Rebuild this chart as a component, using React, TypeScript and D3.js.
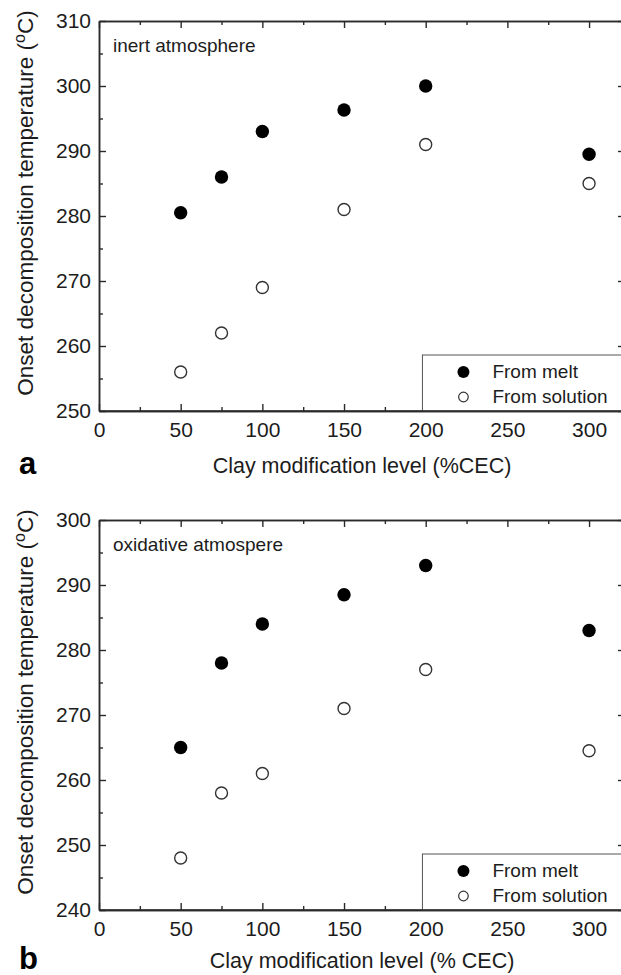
import React, { useEffect, useRef } from 'react'
import * as d3 from 'd3'

// clay modification level (%CEC)
const levels = [50, 75, 100, 150, 200, 300]

// onset decomposition temperature, inert atmosphere (panel a)
const inertMelt = [280.5, 286, 293, 296.3, 300, 289.5]
const inertSolution = [256, 262, 269, 281, 291, 285]

// onset decomposition temperature, oxidative atmosphere (panel b)
const oxidMelt = [265, 278, 284, 288.5, 293, 283]
const oxidSolution = [248, 258, 261, 271, 277, 264.5]

const xTicks = [0, 50, 100, 150, 200, 250, 300]
const inertYTicks = [250, 260, 270, 280, 290, 300, 310]
const oxidYTicks = [240, 250, 260, 270, 280, 290, 300]

const seriesNames = ['From melt', 'From solution']

const FONT = '"Liberation Sans", Arial, Helvetica, sans-serif'
const INK = '#1c1c1c'

function drawPanel(svg, cfg) {
  const x = d3.scaleLinear().domain([0, 322]).range([99, 625])
  const y = d3.scaleLinear().domain(cfg.yDomain).range([cfg.bottom, cfg.top])
  const left = x(0), right = x(322)

  const g = svg.append('g')

  const minorX = d3.range(25, 322, 25).filter(v => v % 50 !== 0)
  const minorY = d3.range(cfg.yDomain[0] + 5, cfg.yDomain[1], 10)

  // major axes with labels on bottom / left
  g.append('g')
    .attr('transform', `translate(0,${cfg.bottom})`)
    .call(d3.axisBottom(x).tickValues(xTicks).tickSize(-7).tickSizeOuter(0).tickPadding(11))
  g.append('g')
    .attr('transform', `translate(${left},0)`)
    .call(d3.axisLeft(y).tickValues(cfg.yTicks).tickSize(-7).tickSizeOuter(0).tickPadding(8))
  g.append('g')
    .attr('transform', `translate(0,${cfg.top})`)
    .call(d3.axisTop(x).tickValues(xTicks).tickSize(-7).tickSizeOuter(0).tickFormat(() => ''))
  g.append('g')
    .attr('transform', `translate(${right},0)`)
    .call(d3.axisRight(y).tickValues(cfg.yTicks).tickSize(-7).tickSizeOuter(0).tickFormat(() => ''))

  // minor ticks
  g.append('g')
    .attr('transform', `translate(0,${cfg.bottom})`)
    .call(d3.axisBottom(x).tickValues(minorX).tickSize(-4).tickSizeOuter(0).tickFormat(() => ''))
  g.append('g')
    .attr('transform', `translate(0,${cfg.top})`)
    .call(d3.axisTop(x).tickValues(minorX).tickSize(-4).tickSizeOuter(0).tickFormat(() => ''))
  g.append('g')
    .attr('transform', `translate(${left},0)`)
    .call(d3.axisLeft(y).tickValues(minorY).tickSize(-4).tickSizeOuter(0).tickFormat(() => ''))
  g.append('g')
    .attr('transform', `translate(${right},0)`)
    .call(d3.axisRight(y).tickValues(minorY).tickSize(-4).tickSizeOuter(0).tickFormat(() => ''))

  g.selectAll('.domain').attr('stroke', '#2a2a2a').attr('stroke-width', 1.5)
  g.selectAll('.tick line').attr('stroke', '#2a2a2a').attr('stroke-width', 1.4)
  g.selectAll('.tick text')
    .attr('fill', INK)
    .style('font-family', FONT)
    .style('font-size', '21px')

  // legend box (runs off the right edge like the original)
  const lx = x(198)
  const lTop = cfg.bottom - 56
  g.append('rect')
    .attr('x', lx).attr('y', lTop)
    .attr('width', 260).attr('height', 56)
    .attr('fill', 'white').attr('stroke', '#555').attr('stroke-width', 1)

  // redraw bottom domain over the legend box
  g.append('line')
    .attr('x1', left).attr('x2', right)
    .attr('y1', cfg.bottom).attr('y2', cfg.bottom)
    .attr('stroke', '#2a2a2a').attr('stroke-width', 1.5)

  seriesNames.forEach((name, i) => {
    const cy = cfg.bottom - 39 + i * 25
    g.append('circle')
      .attr('cx', lx + 41).attr('cy', cy)
      .attr('r', i === 0 ? 6 : 4.8)
      .attr('fill', i === 0 ? '#000' : 'white')
      .attr('stroke', i === 0 ? 'none' : '#333')
      .attr('stroke-width', 1.2)
    g.append('text')
      .attr('x', lx + 70).attr('y', cy + 6)
      .attr('fill', INK)
      .style('font-family', FONT).style('font-size', '19px')
      .text(name)
  })

  // data points
  g.selectAll('circle.sol')
    .data(levels.map((l, i) => [l, cfg.solution[i]]))
    .enter().append('circle')
    .attr('class', 'sol')
    .attr('cx', d => x(d[0])).attr('cy', d => y(d[1]))
    .attr('r', 6).attr('fill', 'white')
    .attr('stroke', '#333').attr('stroke-width', 1.4)
  g.selectAll('circle.melt')
    .data(levels.map((l, i) => [l, cfg.melt[i]]))
    .enter().append('circle')
    .attr('class', 'melt')
    .attr('cx', d => x(d[0])).attr('cy', d => y(d[1]))
    .attr('r', 6.7).attr('fill', '#000')

  // inner label
  g.append('text')
    .attr('x', left + 14).attr('y', cfg.top + 31)
    .attr('fill', INK)
    .style('font-family', FONT).style('font-size', '19px')
    .text(cfg.note)

  // x title
  g.append('text')
    .attr('x', (left + right) / 2).attr('y', cfg.bottom + cfg.titleGap)
    .attr('text-anchor', 'middle')
    .attr('fill', INK)
    .style('font-family', FONT).style('font-size', '21.5px')
    .text(cfg.xTitle)

  // y title with superscript o
  const cy = (cfg.top + cfg.bottom) / 2 - 13
  const yt = g.append('text')
    .attr('transform', `translate(33,${cy}) rotate(-90)`)
    .attr('text-anchor', 'middle')
    .attr('fill', INK)
    .style('font-family', FONT).style('font-size', '22.5px')
  yt.append('tspan').text('Onset decomposition temperature (')
  yt.append('tspan').attr('dy', -8).style('font-size', '16px').text('o')
  yt.append('tspan').attr('dy', 8).text('C)')

  // panel letter
  g.append('text')
    .attr('x', 19).attr('y', cfg.bottom + cfg.titleGap + 1)
    .attr('fill', '#000')
    .style('font-family', FONT).style('font-size', '31px').style('font-weight', 'bold')
    .text(cfg.letter)
}

export default function App() {
  const ref = useRef(null)

  useEffect(() => {
    const svg = d3.select(ref.current)
    svg.selectAll('*').remove()
    svg.append('rect').attr('width', 621).attr('height', 975).attr('fill', 'white')

    drawPanel(svg, {
      top: 21, bottom: 411, titleGap: 62,
      yDomain: [250, 310], yTicks: inertYTicks,
      melt: inertMelt, solution: inertSolution,
      note: 'inert atmosphere',
      xTitle: 'Clay modification level (%CEC)',
      letter: 'a',
    })
    drawPanel(svg, {
      top: 520, bottom: 910, titleGap: 58,
      yDomain: [240, 300], yTicks: oxidYTicks,
      melt: oxidMelt, solution: oxidSolution,
      note: 'oxidative atmospere',
      xTitle: 'Clay modification level (% CEC)',
      letter: 'b',
    })
  }, [])

  return (
    <svg ref={ref} width={621} height={975}
      style={{ position: 'absolute', left: 0, top: 0, display: 'block' }} />
  )
}
